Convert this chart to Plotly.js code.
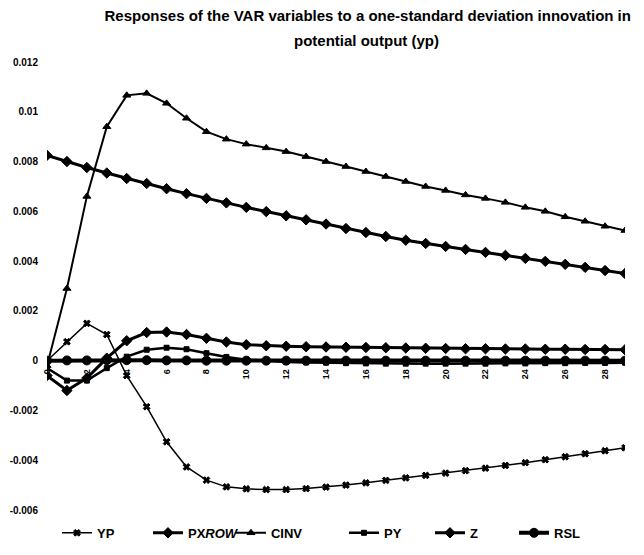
<!DOCTYPE html>
<html>
<head>
<meta charset="utf-8">
<script src="https://cdn.plot.ly/plotly-3.0.1.min.js"></script>
<style>
  html, body { margin: 0; padding: 0; background: #fff; }
  #chart { width: 644px; height: 555px; }
</style>
</head>
<body>
<div id="chart"></div>
<script>
// Impulse responses, periods 0..29
const periods = [0,1,2,3,4,5,6,7,8,9,10,11,12,13,14,15,16,17,18,19,20,21,22,23,24,25,26,27,28,29];

const yp = [0, 0.00076, 0.0015, 0.00105, -0.0006, -0.00185, -0.00326, -0.00427, -0.0048, -0.00507,
            -0.00515, -0.00518, -0.00518, -0.00514, -0.00508, -0.005, -0.00491, -0.00481, -0.00471, -0.00461,
            -0.00452, -0.00442, -0.00432, -0.00421, -0.0041, -0.00398, -0.00386, -0.00374, -0.00362, -0.0035];

const px = [0.00825, 0.008, 0.00776, 0.00754, 0.00732, 0.00712, 0.00691, 0.00671, 0.00652, 0.00634,
            0.00616, 0.00599, 0.00582, 0.00566, 0.00549, 0.00531, 0.00515, 0.00499, 0.00484, 0.00471,
            0.00459, 0.00447, 0.00435, 0.00423, 0.00411, 0.00399, 0.00387, 0.00375, 0.00362, 0.0035];

const cinv = [-0.0002, 0.0029, 0.0066, 0.0094, 0.01066, 0.01074, 0.01034, 0.00974, 0.0092, 0.0089,
              0.0087, 0.00855, 0.0084, 0.0082, 0.008, 0.0078, 0.0076, 0.0074, 0.0072, 0.007,
              0.00684, 0.00666, 0.00652, 0.00636, 0.00616, 0.006, 0.00578, 0.0056, 0.0054, 0.00523];

const py = [-0.0003, -0.0008, -0.0008, -0.0003, 0.00016, 0.00044, 0.00052, 0.00046, 0.0003, 0.00015,
            0.00004, -0.00002, -0.00005, -0.00007, -0.00008, -0.0001, -0.00011, -0.00012, -0.00012, -0.00012,
            -0.00012, -0.00012, -0.00012, -0.00011, -0.00011, -0.0001, -0.0001, -0.00009, -0.00009, -0.00008];

const z = [-0.0006, -0.0012, -0.0007, 0.0001, 0.0008, 0.00113, 0.00115, 0.00105, 0.0009, 0.00075,
           0.00064, 0.0006, 0.00058, 0.00056, 0.00055, 0.00054, 0.00053, 0.00052, 0.00051, 0.0005,
           0.00049, 0.00048, 0.00048, 0.00047, 0.00047, 0.00046, 0.00046, 0.00045, 0.00045, 0.00044];

const rsl = [0, 0.00001, 0.00001, 0.00002, 0.00002, 0.00002, 0.00001, 0.00001, 0, 0,
             0, 0, 0, 0, 0, 0, 0, 0, 0, 0,
             0, 0, 0, 0, 0, 0, 0, 0, 0, 0];

const seriesNames = ['YP', 'PX<i>ROW</i>', 'CINV', 'PY', 'Z', 'RSL'];

const yTickVals = [-0.006, -0.004, -0.002, 0, 0.002, 0.004, 0.006, 0.008, 0.01, 0.012];
const yTickText = ['-0.006', '-0.004', '-0.002', '0', '0.002', '0.004', '0.006', '0.008', '0.01', '0.012'];
const xTickVals = [0, 2, 4, 6, 8, 10, 12, 14, 16, 18, 20, 22, 24, 26, 28];

const FONT = 'Liberation Sans, Arial, sans-serif';
const INK = '#000';

function series(y, name, legendId, lineW, symbol, size) {
  return {
    x: periods, y: y, name: name, type: 'scatter', mode: 'lines+markers',
    legend: legendId, showlegend: true,
    line: { color: INK, width: lineW },
    marker: { color: INK, symbol: symbol, size: size, line: { color: INK, width: 1 } },
    hoverinfo: 'skip'
  };
}

const data = [
  series(yp,   seriesNames[0], 'legend',  1.5, 'x',           6),
  series(px,   seriesNames[1], 'legend2', 3,   'diamond',     8),
  series(cinv, seriesNames[2], 'legend3', 2,   'triangle-up', 7),
  series(py,   seriesNames[3], 'legend4', 2.5, 'square',      5),
  series(z,    seriesNames[4], 'legend5', 3,   'diamond',     8),
  series(rsl,  seriesNames[5], 'legend6', 4,   'circle',      9)
];

function legendAt(xPos) {
  return {
    x: xPos, y: -0.051, xanchor: 'left', yanchor: 'middle',
    orientation: 'h', bgcolor: 'rgba(0,0,0,0)', borderwidth: 0,
    font: { family: FONT, size: 13, color: INK, weight: 700 },
    itemclick: false, itemdoubleclick: false
  };
}

const layout = {
  width: 644, height: 555,
  showlegend: true,
  paper_bgcolor: '#fff', plot_bgcolor: '#fff',
  margin: { l: 47, r: 19, t: 62, b: 45, autoexpand: false },
  font: { family: FONT, color: INK },
  title: {
    text: 'Responses of the VAR variables to a one-standard deviation innovation in',
    x: 0.571, xanchor: 'center', y: 0.971, yanchor: 'middle',
    font: { family: FONT, size: 15, color: INK, weight: 700 }
  },
  annotations: [{
    text: 'potential output (yp)', xref: 'paper', yref: 'paper',
    x: 0.5536, y: 1.047, xanchor: 'center', yanchor: 'middle', showarrow: false,
    font: { family: FONT, size: 15, color: INK, weight: 700 }
  }],
  xaxis: {
    range: [0, 29], anchor: 'free', position: 0.3333,
    tickmode: 'array', tickvals: xTickVals, ticktext: xTickVals.map(String),
    tickangle: -90, ticks: '', ticklabelstandoff: 4,
    showgrid: false, zeroline: false, showline: true, linecolor: INK, linewidth: 1,
    tickfont: { family: FONT, size: 9, color: INK, weight: 700 }
  },
  yaxis: {
    range: [-0.006, 0.012],
    tickmode: 'array', tickvals: yTickVals, ticktext: yTickText,
    ticks: '', ticklabelstandoff: 8,
    showgrid: false, zeroline: false, showline: false,
    tickfont: { family: FONT, size: 10, color: INK, weight: 700 }
  },
  legend:  legendAt(0.0173),
  legend2: legendAt(0.1747),
  legend3: legendAt(0.3183),
  legend4: legendAt(0.5138),
  legend5: legendAt(0.6626),
  legend6: legendAt(0.8080)
};

Plotly.newPlot('chart', data, layout, { staticPlot: true, displayModeBar: false });
</script>
</body>
</html>
